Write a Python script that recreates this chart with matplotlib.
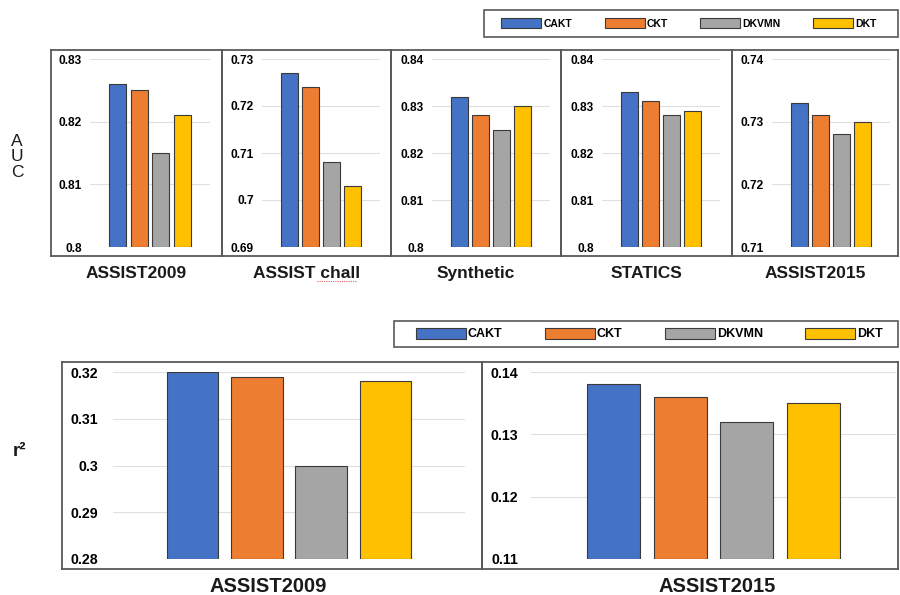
import matplotlib
matplotlib.use("Agg")
import matplotlib.pyplot as plt
from matplotlib.patches import Rectangle, Patch
from matplotlib.lines import Line2D

plt.rcParams['font.family'] = ['Liberation Sans', 'DejaVu Sans']
plt.rcParams['font.weight'] = 'bold'

W, H = 900, 595

models = ["CAKT", "CKT", "DKVMN", "DKT"]
colors = ["#4472C4", "#ED7D31", "#A5A5A5", "#FFC000"]

# AUC (obere Reihe)
auc_datasets = ["ASSIST2009", "ASSIST chall", "Synthetic", "STATICS", "ASSIST2015"]
auc_cakt = [0.826, 0.727, 0.832, 0.833, 0.733]
auc_ckt = [0.825, 0.724, 0.828, 0.831, 0.731]
auc_dkvmn = [0.815, 0.708, 0.825, 0.828, 0.728]
auc_dkt = [0.821, 0.703, 0.830, 0.829, 0.730]
auc_ticks = [
    [0.80, 0.81, 0.82, 0.83],
    [0.69, 0.70, 0.71, 0.72, 0.73],
    [0.80, 0.81, 0.82, 0.83, 0.84],
    [0.80, 0.81, 0.82, 0.83, 0.84],
    [0.71, 0.72, 0.73, 0.74],
]

# r^2 (untere Reihe)
r2_datasets = ["ASSIST2009", "ASSIST2015"]
r2_cakt = [0.320, 0.138]
r2_ckt = [0.319, 0.136]
r2_dkvmn = [0.300, 0.132]
r2_dkt = [0.318, 0.135]
r2_ticks = [
    [0.28, 0.29, 0.30, 0.31, 0.32],
    [0.11, 0.12, 0.13, 0.14],
]

EDGE = "#595959"


def px_rect(x0, y0, x1, y1):
    return [x0 / W, 1 - y1 / H, (x1 - x0) / W, (y1 - y0) / H]


def frame(fig, x0, y0, x1, y1):
    ax = fig.add_axes(px_rect(x0, y0, x1, y1), zorder=0)
    ax.set_xticks([])
    ax.set_yticks([])
    ax.patch.set_alpha(0)
    for s in ax.spines.values():
        s.set_color(EDGE)
        s.set_linewidth(1.3)
    return ax


def bar_panel(fig, rect, vals, ticks, xlim, tick_size, pad):
    ax = fig.add_axes(rect, zorder=2)
    ax.patch.set_alpha(0)
    lo = ticks[0]
    # Balken beginnen an der unteren Achsengrenze
    ax.bar(range(len(vals)), [v - lo for v in vals], bottom=lo, width=0.8,
           color=colors, edgecolor="#3a3a3a", linewidth=0.8, zorder=3)
    ax.set_ylim(lo, ticks[-1])
    ax.set_xlim(*xlim)
    ax.set_yticks(ticks)
    ax.set_yticklabels([f"{t:g}" for t in ticks], fontsize=tick_size,
                       fontweight="bold")
    ax.set_xticks([])
    ax.tick_params(axis="y", length=0, pad=pad)
    ax.grid(axis="y", color="#e0e0e0", linewidth=0.8, zorder=0)
    for s in ax.spines.values():
        s.set_visible(False)
    return ax


fig = plt.figure(figsize=(W / 100, H / 100), dpi=100)

# --- obere Reihe ---
top_boxes = [(51, 222), (222, 391), (391, 561), (561, 732), (732, 898)]
top_inner = [(90, 210), (262, 380), (432, 550), (602, 720), (772, 890)]
for i, name in enumerate(auc_datasets):
    bx0, bx1 = top_boxes[i]
    frame(fig, bx0, 50, bx1, 256)
    ix0, ix1 = top_inner[i]
    vals = [auc_cakt[i], auc_ckt[i], auc_dkvmn[i], auc_dkt[i]]
    bar_panel(fig, px_rect(ix0, 59, ix1, 247), vals, auc_ticks[i],
              (-1.28, 4.28), 8.6, 6.0)
    fig.text((bx0 + bx1) / 2 / W, 1 - 274 / H, name, ha="center", va="center",
             fontsize=12.5, fontweight="bold", color="#1a1a1a")

# rote Rechtschreib-Wellenlinie unter "chall"
fig.add_artist(Line2D([317 / W, 357 / W], [1 - 281 / H, 1 - 281 / H],
                      color="#e06060", linewidth=0.8, linestyle=(0, (1, 1))))

fig.text(17 / W, 1 - 157 / H, "A\nU\nC", ha="center", va="center",
         fontsize=12.5, fontweight="normal", linespacing=1.05, color="#1a1a1a")

handles = [Patch(facecolor=c, edgecolor="#3a3a3a", linewidth=0.8) for c in colors]

# Legende oben
fig.add_artist(Rectangle((484 / W, 1 - 37 / H), (898 - 484) / W, 27 / H,
                         transform=fig.transFigure, fill=False,
                         edgecolor=EDGE, linewidth=1.2))
fig.legend(handles, models, loc="center", bbox_to_anchor=(689 / W, 1 - 23.5 / H),
           ncol=4, frameon=False, handlelength=3.85,
           handleheight=1.15, handletextpad=0.2, columnspacing=3.1,
           borderpad=0, prop={"weight": "bold", "size": 7.5})

# --- untere Reihe ---
bot_boxes = [(62, 482), (482, 898)]
bot_inner = [(113, 465), (531, 896)]
bot_pads = [10.5, 9.2]
bot_label_x = [268, 717]
for i, name in enumerate(r2_datasets):
    bx0, bx1 = bot_boxes[i]
    frame(fig, bx0, 362, bx1, 569)
    ix0, ix1 = bot_inner[i]
    vals = [r2_cakt[i], r2_ckt[i], r2_dkvmn[i], r2_dkt[i]]
    bar_panel(fig, px_rect(ix0, 372, ix1, 559), vals, r2_ticks[i],
              (-1.24, 4.24), 10.2, bot_pads[i])
    fig.text(bot_label_x[i] / W, 1 - 587 / H, name, ha="center", va="center",
             fontsize=14.5, fontweight="bold", color="#1a1a1a")

fig.text(20 / W, 1 - 452 / H, "r²", ha="center", va="center",
         fontsize=13.5, fontweight="bold", color="#1a1a1a")

# Legende unten
fig.add_artist(Rectangle((394 / W, 1 - 347 / H), (898 - 394) / W, 26 / H,
                         transform=fig.transFigure, fill=False,
                         edgecolor=EDGE, linewidth=1.2))
fig.legend(handles, models, loc="center", bbox_to_anchor=(649.5 / W, 1 - 334 / H),
           ncol=4, frameon=False, handlelength=4.0,
           handleheight=0.96, handletextpad=0.15, columnspacing=3.4,
           borderpad=0, prop={"weight": "bold", "size": 9})

fig.savefig("out.png", dpi=100)
